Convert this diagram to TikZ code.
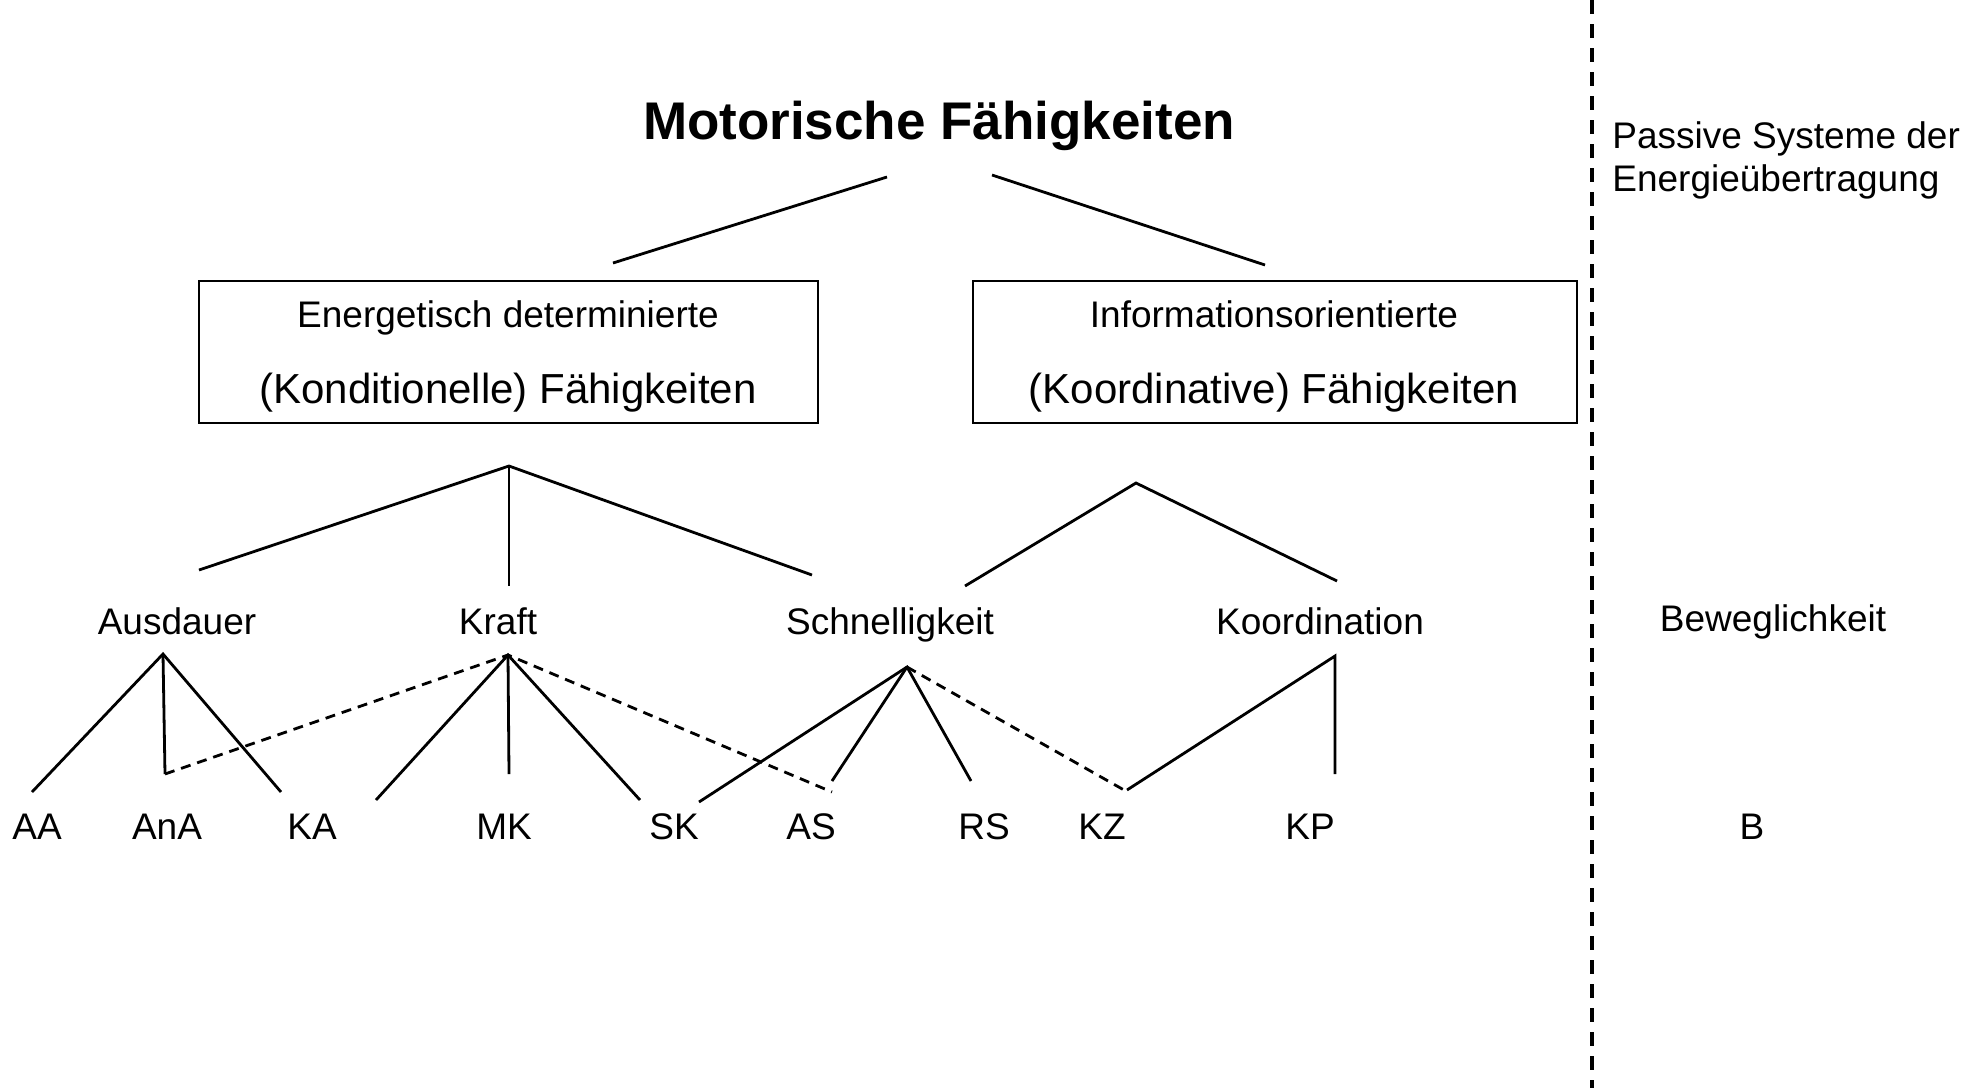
\documentclass[tikz,border=0pt]{standalone}
\usepackage{fontspec}
\setmainfont{Liberation Sans}
\begin{document}
\begin{tikzpicture}[x=0.5pt,y=-0.5pt,
  lbl/.style={inner sep=0pt,anchor=base,font=\fontsize{18.5}{22}\selectfont},
  big/.style={inner sep=0pt,anchor=base,font=\fontsize{21}{25}\selectfont},
  ttl/.style={inner sep=0pt,anchor=base,font=\fontsize{26.5}{30}\selectfont\bfseries},
  conn/.style={line width=1.4pt},
  dconn/.style={line width=1.4pt,dash pattern=on 5pt off 3.5pt},
  boxst/.style={draw,line width=0.8pt,inner sep=0pt,minimum height=71pt}]
\useasboundingbox (0,0) rectangle (1986,1088);
% title
\node[ttl] (title) at (939,139) {Motorische Fähigkeiten};
\coordinate (tl) at (887,177); \coordinate (tlb) at (613,263);
\coordinate (tr) at (992,175); \coordinate (trb) at (1265,265);
\draw[conn] (tl) -- (tlb);
\draw[conn] (tr) -- (trb);
% boxes
\node[boxst,minimum width=309.5pt] (boxL) at (508.5,352) {};
\node[boxst,minimum width=302pt] (boxR) at (1275,352) {};
\node[lbl] (eL1) at (508,327) {Energetisch determinierte};
\node[big] (eL2) at (508,403) {(Konditionelle) Fähigkeiten};
\node[lbl] (eR1) at (1274,327) {Informationsorientierte};
\node[big] (eR2) at (1274,403) {(Koordinative) Fähigkeiten};
% second level connectors
\coordinate (apL) at (509,466);
\coordinate (apLa) at (199,570);
\coordinate (apLb) at (509,586);
\coordinate (apLc) at (812,575);
\draw[conn] (apLa) -- (apL) -- (apLc);
\draw[conn] (apL) -- (apLb);
\coordinate (apR) at (1136,483);
\coordinate (apRa) at (965,586);
\coordinate (apRb) at (1337,581);
\draw[conn] (apRa) -- (apR) -- (apRb);
% level labels
\node[lbl] (aus) at (177,634) {Ausdauer};
\node[lbl] (kra) at (498,634) {Kraft};
\node[lbl] (sch) at (890,634) {Schnelligkeit};
\node[lbl] (koo) at (1320,634) {Koordination};
\node[lbl] (bew) at (1773,631) {Beweglichkeit};
% leaves
\node[lbl] (AA) at (37,839) {AA};
\node[lbl] (AnA) at (167,839) {AnA};
\node[lbl] (KA) at (312,839) {KA};
\node[lbl] (MK) at (504,839) {MK};
\node[lbl] (SK) at (674,839) {SK};
\node[lbl] (AS) at (811,839) {AS};
\node[lbl] (RS) at (984,839) {RS};
\node[lbl] (KZ) at (1102,839) {KZ};
\node[lbl] (KP) at (1310,839) {KP};
\node[lbl] (B) at (1752,839) {B};
% Ausdauer subtree
\coordinate (ausT) at (163,654);
\coordinate (aaT) at (32,792);
\coordinate (anaT) at (165,774);
\coordinate (kaT) at (281,792);
\draw[conn] (aaT) -- (ausT) -- (kaT);
\draw[conn] (ausT) -- (anaT);
% Kraft subtree
\coordinate (kraT) at (508,655);
\coordinate (k1) at (376,800);
\coordinate (k2) at (509,774);
\coordinate (k3) at (640,800);
\coordinate (asT) at (832,792);
\draw[conn] (k1) -- (kraT) -- (k3);
\draw[conn] (kraT) -- (k2);
\draw[dconn] (anaT) -- (kraT) -- (asT);
% Schnelligkeit subtree
\coordinate (schT) at (907,667);
\coordinate (s1) at (699,802);
\coordinate (s2) at (832,781);
\coordinate (s3) at (971,781);
\coordinate (kzT) at (1124,790);
\draw[conn] (s1) -- (schT) -- (s3);
\draw[conn] (schT) -- (s2);
\draw[dconn] (schT) -- (kzT);
% Koordination subtree
\coordinate (kooT) at (1335,656);
\coordinate (kpT) at (1335,774);
\coordinate (kz2) at (1127,790);
\draw[conn] (kz2) -- (kooT) -- (kpT);
% divider
\coordinate (dvT) at (1592,0);
\coordinate (dvB) at (1592,1088);
\draw[line width=2pt,dash pattern=on 7pt off 5pt] (dvT) -- (dvB);
% right texts
\node[lbl,anchor=base west] (pas1) at (1612,148) {Passive Systeme der};
\node[lbl,anchor=base west] (pas2) at (1612,191) {Energieübertragung};
\end{tikzpicture}
\end{document}
